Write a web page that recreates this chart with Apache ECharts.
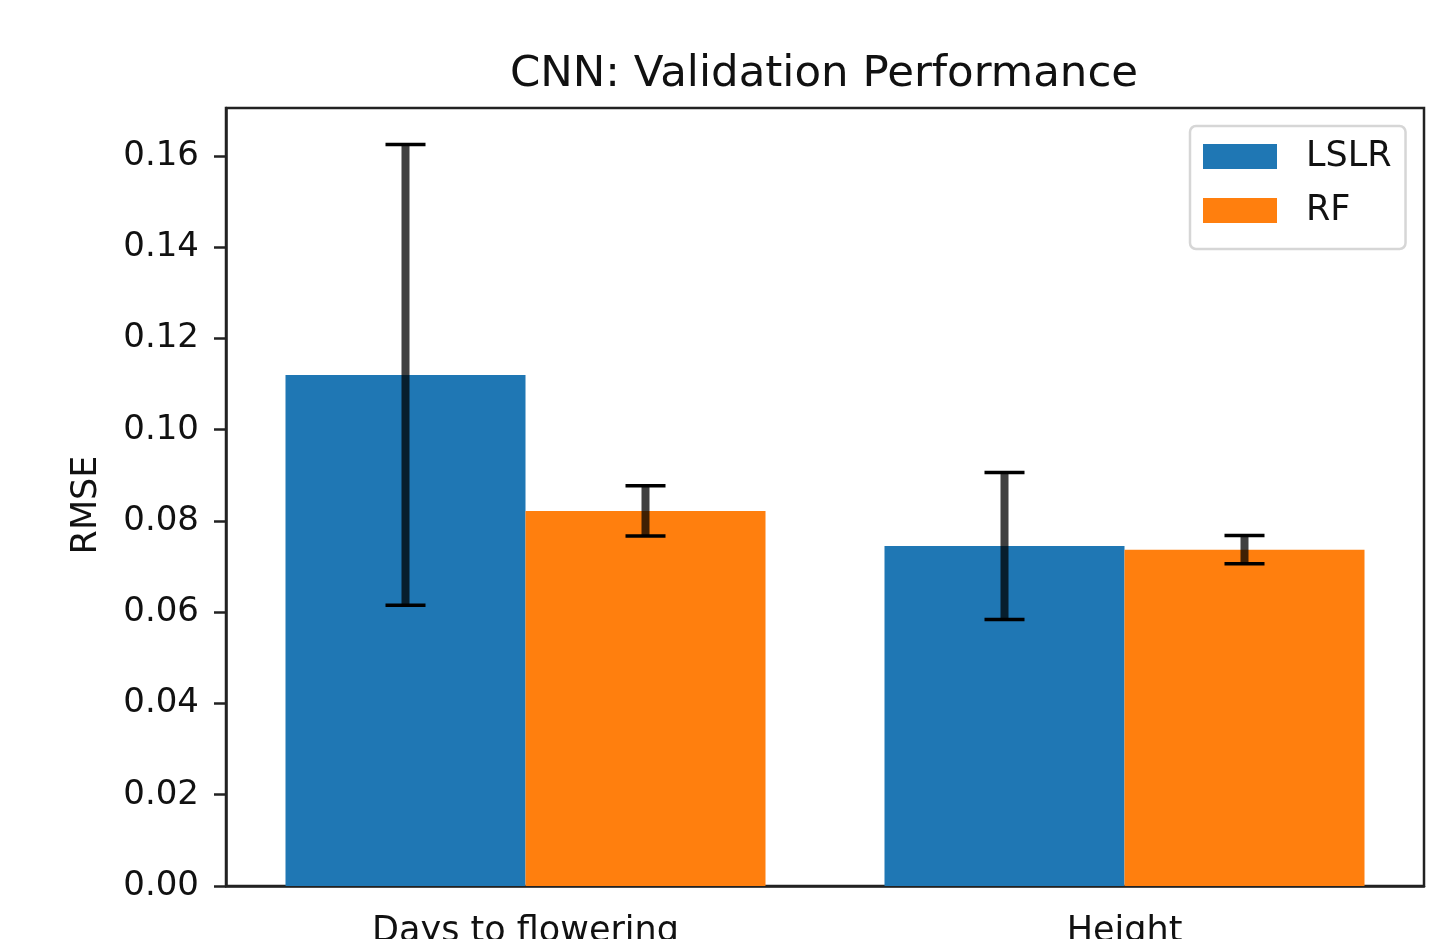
<!DOCTYPE html>
<html>
<head>
<meta charset="utf-8">
<script src="https://cdn.jsdelivr.net/npm/echarts@6/dist/echarts.min.js"></script>
<style>
  html, body { margin: 0; padding: 0; background: #fff; }
  #chart { width: 1446px; height: 939px; }
</style>
</head>
<body>
<div id="chart"></div>
<script>
// Categories and series values
const categories = ['Days to flowering', 'Height'];
const seriesNames = ['LSLR', 'RF'];
const lslrValues = [0.1120, 0.0745];
const rfValues = [0.0822, 0.0737];
// Error bar half-lengths (± around each bar value)
const lslrErrors = [0.0505, 0.0161];
const rfErrors = [0.0055, 0.0031];
// Y tick labels
const yTicks = [0, 0.02, 0.04, 0.06, 0.08, 0.10, 0.12, 0.14, 0.16];
const yMax = 0.1705;

const BAR_WIDTH = 240;
const FONT = 'DejaVu Sans';
const AXIS_COLOR = '#222';

// Draws a vertical error bar with caps, offset to sit over its bar
function errorBarRenderer(side) {
  return function (params, api) {
    const cat = api.value(0);
    const v = api.value(1);
    const e = api.value(2);
    const hi = api.coord([cat, v + e]);
    const lo = api.coord([cat, v - e]);
    const x = hi[0] + side * BAR_WIDTH / 2;
    const capHalf = 20;
    return {
      type: 'group',
      children: [
        { type: 'line', shape: { x1: x, y1: hi[1], x2: x, y2: lo[1] },
          style: { stroke: 'rgba(0,0,0,0.75)', lineWidth: 8 } },
        { type: 'line', shape: { x1: x - capHalf, y1: hi[1], x2: x + capHalf, y2: hi[1] },
          style: { stroke: '#000', lineWidth: 3.5 } },
        { type: 'line', shape: { x1: x - capHalf, y1: lo[1], x2: x + capHalf, y2: lo[1] },
          style: { stroke: '#000', lineWidth: 3.5 } }
      ]
    };
  };
}

const chart = echarts.init(document.getElementById('chart'), null, { renderer: 'canvas' });

chart.setOption({
  animation: false,
  backgroundColor: '#fff',
  color: ['#1f77b4', '#ff7f0e'],
  title: {
    text: 'CNN: Validation Performance',
    left: 819,
    textAlign: 'center',
    top: 48,
    textStyle: { fontFamily: FONT, fontSize: 43.5, fontWeight: 'normal', color: '#111' }
  },
  legend: {
    data: seriesNames,
    orient: 'vertical',
    left: 1190,
    top: 126,
    icon: 'rect',
    itemWidth: 74,
    itemHeight: 25,
    itemGap: 19,
    padding: [13, 14, 21, 13],
    backgroundColor: '#fff',
    borderColor: '#d6d6d6',
    borderWidth: 2.5,
    borderRadius: 6,
    textStyle: { fontFamily: FONT, fontSize: 35, color: '#111', padding: [0, 0, 0, 24] }
  },
  grid: {
    left: 226,
    right: 22,
    top: 108,
    bottom: 53,
    outerBoundsMode: 'none',
    containLabel: false,
    show: true,
    borderColor: AXIS_COLOR,
    borderWidth: 2.5,
    backgroundColor: 'transparent'
  },
  xAxis: {
    type: 'category',
    data: categories,
    axisLine: { lineStyle: { color: AXIS_COLOR, width: 2.5 } },
    axisTick: { alignWithLabel: true, length: 13, lineStyle: { color: AXIS_COLOR, width: 2.5 } },
    axisLabel: { fontFamily: FONT, fontSize: 35, color: '#111', margin: 28 },
    splitLine: { show: false }
  },
  yAxis: {
    type: 'value',
    min: 0,
    max: yMax,
    interval: 0.02,
    name: 'RMSE',
    nameLocation: 'middle',
    nameRotate: 90,
    nameGap: 122,
    nameTextStyle: { fontFamily: FONT, fontSize: 35, color: '#111', padding: [0, 16, 0, 0] },
    axisLine: { show: true, lineStyle: { color: AXIS_COLOR, width: 2.5 } },
    axisTick: { show: true, length: 12, customValues: yTicks, lineStyle: { color: AXIS_COLOR, width: 2.5 } },
    axisLabel: {
      fontFamily: FONT, fontSize: 34, color: '#111', margin: 27,
      customValues: yTicks,
      formatter: v => v.toFixed(2)
    },
    splitLine: { show: false }
  },
  series: [
    { name: 'LSLR', type: 'bar', data: lslrValues, barWidth: BAR_WIDTH, barGap: '0%' },
    { name: 'RF', type: 'bar', data: rfValues, barWidth: BAR_WIDTH, barGap: '0%' },
    {
      name: 'LSLR error', type: 'custom', z: 10,
      renderItem: errorBarRenderer(-1),
      encode: { x: 0, y: 1 },
      data: lslrValues.map((v, i) => [i, v, lslrErrors[i]])
    },
    {
      name: 'RF error', type: 'custom', z: 10,
      renderItem: errorBarRenderer(1),
      encode: { x: 0, y: 1 },
      data: rfValues.map((v, i) => [i, v, rfErrors[i]])
    }
  ]
});
</script>
</body>
</html>
